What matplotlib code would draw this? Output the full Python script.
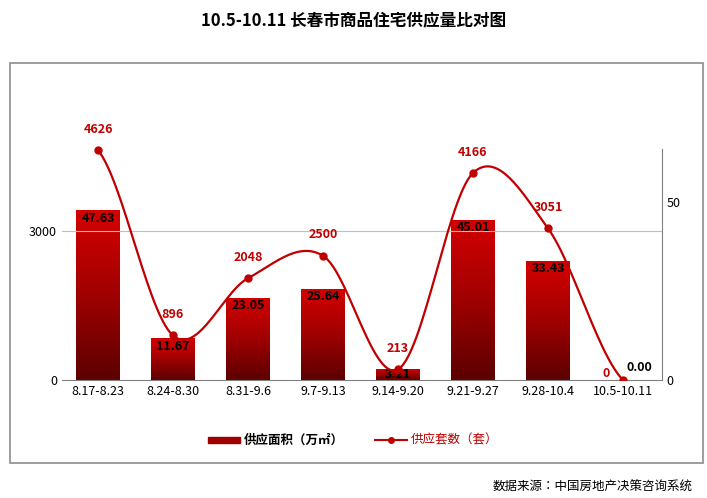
import numpy as np
import matplotlib.pyplot as plt
from matplotlib import font_manager
from matplotlib.patches import Rectangle
from matplotlib.colors import LinearSegmentedColormap

names = sorted({f.name for f in font_manager.fontManager.ttflist if 'CJK' in f.name})
cjk = names[0] if names else 'DejaVu Sans'
for n in names:
    if 'SC' in n:
        cjk = n
        break
plt.rcParams['font.family'] = 'sans-serif'
plt.rcParams['font.sans-serif'] = [cjk, 'DejaVu Sans']

weeks = ['8.17-8.23', '8.24-8.30', '8.31-9.6', '9.7-9.13', '9.14-9.20', '9.21-9.27', '9.28-10.4', '10.5-10.11']
area = [47.63, 11.67, 23.05, 25.64, 3.21, 45.01, 33.43, 0.00]   # 万㎡
units = [4626, 896, 2048, 2500, 213, 4166, 3051, 0]             # 套

fig = plt.figure(figsize=(7.07, 4.98), dpi=100)
W, H = 707, 498
fig.patches.append(Rectangle((10 / W, 1 - 463 / H), 693 / W, 400 / H, transform=fig.transFigure,
                             fill=False, edgecolor='#8c8c8c', linewidth=1.2))
fig.text(0.5, 1 - 20 / H, '10.5-10.11 长春市商品住宅供应量比对图', ha='center', va='center',
         fontsize=12, fontweight='bold')
fig.text(693 / W, 1 - 487 / H, '数据来源：中国房地产决策咨询系统', ha='right', va='center', fontsize=9)

ax = fig.add_axes([62 / W, 1 - 380 / H, 600 / W, 295 / H])
ax2 = ax.twinx()
x = np.arange(len(weeks))

# bars (right axis) with gradient
ax2.set_ylim(0, 295 / 3.56)
cmap = LinearSegmentedColormap.from_list('r', ['#5c0000', '#a00000', '#d40000'])
grad = np.linspace(0, 1, 100).reshape(-1, 1)
bw = 0.58
bars = ax2.bar(x, area, width=bw, color='none', edgecolor='none', zorder=2)
for b, v in zip(bars, area):
    if v <= 0:
        continue
    im = ax2.imshow(grad, cmap=cmap, origin='lower', aspect='auto',
                    extent=[b.get_x(), b.get_x() + bw, 0, v], zorder=2)
    im.set_clip_path(b)
    ax2.text(b.get_x() + bw / 2, max(v - 2.2, 1.6), f'{v:.2f}', ha='center', va='center', fontsize=9,
             fontweight='bold', color='black', zorder=5)
ax2.text(x[-1] + 0.22, 1.8, '0.00', ha='center', va='bottom', fontsize=9, fontweight='bold', zorder=5)
ax2.set_xlim(-0.48, 7.52)

# smooth line (left axis)
ax.set_ylim(0, 295 / 0.0497)
ax.set_xlim(-0.48, 7.52)
xs, ys = [], []
p = np.array(units, dtype=float)
pe = np.concatenate([[p[0]], p, [p[-1]]])
for i in range(len(p) - 1):
    t = np.linspace(0, 1, 30)
    p0, p1, p2, p3 = pe[i], pe[i + 1], pe[i + 2], pe[i + 3]
    yv = 0.5 * ((2 * p1) + (-p0 + p2) * t + (2 * p0 - 5 * p1 + 4 * p2 - p3) * t ** 2
                + (-p0 + 3 * p1 - 3 * p2 + p3) * t ** 3)
    xs.extend(i + t)
    ys.extend(yv)
ax.set_zorder(ax2.get_zorder() + 1)
ax.patch.set_visible(False)
ax.plot(xs, ys, color='#c00000', linewidth=1.6, zorder=3)
ax.plot(x, units, 'o', color='#c00000', markersize=5, zorder=4)
for xi, u in zip(x[:-1], units[:-1]):
    ax.text(xi, u + 420, str(u), ha='center', va='center',
            fontsize=9, fontweight='bold', color='#c00000')
ax.text(6.78, 0, str(units[-1]), ha='center', va='bottom', fontsize=9, fontweight='bold', color='#c00000')

ax.set_yticks([0, 3000])
ax.axhline(3000, color='#bfbfbf', linewidth=0.8, zorder=0)
ax.set_xticks(x)
ax.set_xticklabels(weeks, fontsize=9)
ax.tick_params(axis='both', length=0, labelsize=9)
for s in ['top', 'right', 'left']:
    ax.spines[s].set_visible(False)
ax.spines['bottom'].set_color('#808080')
ax2.set_yticks([0, 50])
ax2.tick_params(axis='y', length=0, labelsize=9)
for s in ['top', 'left', 'bottom']:
    ax2.spines[s].set_visible(False)
ax2.spines['right'].set_bounds(0, 65)
ax2.spines['right'].set_color('#808080')

# legend
lx = 208 / W
ly = 1 - 440 / H
fig.patches.append(Rectangle((lx, ly - 3 / H), 32 / W, 6 / H, transform=fig.transFigure, color='#a00000'))
fig.text(lx + 36 / W, ly, '供应面积（万㎡）', va='center', fontsize=9, fontweight='bold')
fig.lines.append(plt.Line2D([375 / W, 407 / W], [ly, ly], transform=fig.transFigure, color='#c00000', lw=1.5))
fig.lines.append(plt.Line2D([391 / W], [ly], transform=fig.transFigure, marker='o', color='#c00000', ms=4))
fig.text(411 / W, ly, '供应套数（套）', va='center', fontsize=9, color='#c00000')

fig.savefig('out.png', dpi=100)
